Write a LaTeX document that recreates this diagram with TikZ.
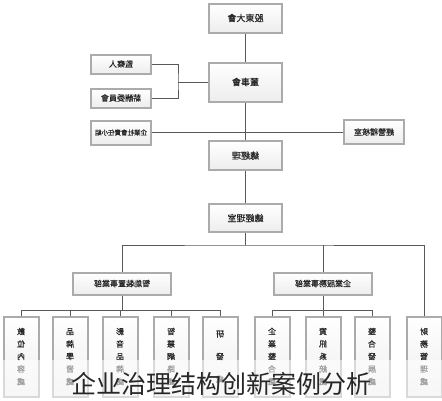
\documentclass[tikz,border=0pt]{standalone}
\usepackage{fontspec}
\setmainfont[FakeBold=0.7]{Noto Sans CJK TC}
\newfontfamily\capfont{Noto Sans CJK SC}
\usetikzlibrary{positioning}
\newcommand{\mr}[1]{\reflectbox{#1}}
\newcommand{\vt}[1]{\reflectbox{\begin{tabular}{@{}c@{}}#1\end{tabular}}}

\begin{document}
\begin{tikzpicture}[x=1pt, y=-1pt,
  box/.style={draw=black!33, line width=2pt, top color=white, bottom color=black!7,
    minimum width=73pt, inner sep=1pt, text=black!85, font=\fontsize{9}{10}\selectfont},
  side/.style={box, minimum width=60pt, minimum height=19pt, font=\fontsize{8}{9}\selectfont},
  unit/.style={box, minimum width=98pt, minimum height=22pt, font=\fontsize{8}{9}\selectfont},
  col/.style={box, minimum width=35pt, minimum height=80pt, font=\fontsize{8}{12.5}\selectfont},
  link/.style={draw=black!65, line width=0.8pt}
]
  \useasboundingbox (0,0) rectangle (442,400);

  % main line of command
  \node[box, minimum height=29pt] (gd)     at (245.5,18)    {\mr{股東大會}};
  \node[box, minimum height=39pt] (bd)     at (245.5,82)    {\mr{董事會}};
  \node[box, minimum height=29pt] (ceo)    at (245.5,155.5) {\mr{總經理}};
  \node[box, minimum height=28pt] (office) at (245.5,218)   {\mr{總經理室}};

  % side units
  \node[side] (sup) at (121,64) {\mr{監察人}};
  \node[side] (pay) at (121,98) {\mr{薪酬委員會}};
  \node[side, minimum height=24pt, font=\fontsize{6.5}{7}\selectfont] (csr) at (121,132.5) {\mr{企業社會責任小組}};
  \node[side, minimum height=24pt] (audit) at (374,132) {\mr{經營稽核室}};

  % business units
  \node[unit] (dev) at (122,283.5) {\mr{智能裝置事業部}};
  \node[unit] (ent) at (323,283.5) {\mr{企業服務事業部}};

  % divisions
  \foreach \x/\nm/\txt in {21/c1/{數\\位\\內\\容\\處}, 70/c2/{品\\牌\\學\\習\\處},
      120/c3/{影\\音\\品\\牌\\處}, 171/c4/{智\\慧\\網\\路\\處}, 220/c5/{研\\[10pt]發\\[10pt]處},
      272/c6/{企\\業\\整\\合\\處}, 323/c7/{資\\訊\\系\\統\\處}, 372/c8/{整\\合\\發\\展\\處},
      424/c9/{財\\務\\管\\理\\處}}
    \node[col] (\nm) at (\x,357) {\vt{\txt}};

  \draw[link] (gd) -- (bd);
  \draw[link] (bd) -- (ceo);
  \draw[link] (ceo) -- (office);

  \coordinate (brk) at (178,82);
  \draw[link] (sup.east) -| (brk) |- (pay.east);
  \draw[link] (brk) -- (bd.west);
  \draw[link] (csr.east) -- (csr.east -| bd.south);
  \draw[link] (audit.west) -- (audit.west -| ceo.north);

  \coordinate (split) at (245.5,245);
  \draw[link] (office) -- (split);
  \draw[link] (dev.north) |- (split) -| (c9.north);
  \draw[link] (ent.north) -- (ent.north |- split);

  \coordinate (busl) at (122,310);
  \coordinate (busr) at (323,310);
  \draw[link] (dev) -- (busl);
  \draw[link] (ent) -- (busr);
  \foreach \nm in {c1,c2,c3,c4,c5}
    \draw[link] (\nm.north) |- (busl);
  \foreach \nm in {c6,c7,c8}
    \draw[link] (\nm.north) |- (busr);

  % caption over the picture
  \fill[white, opacity=0.55] (0,360) rectangle (442,400);
  \node[font=\capfont\fontsize{25}{25}\selectfont, text=black!85] (cap) at (221,384) {企业治理结构创新案例分析};
\end{tikzpicture}
\end{document}
